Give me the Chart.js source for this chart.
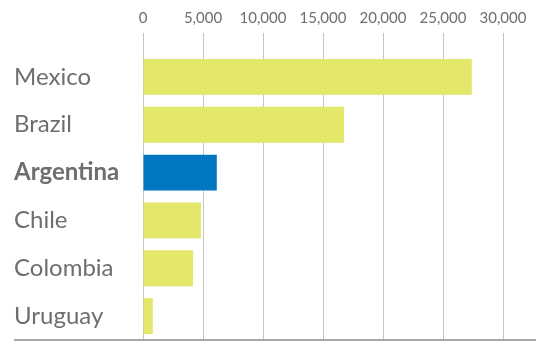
<!DOCTYPE html>
<html>
<head>
<meta charset="utf-8">
<script src="https://cdn.jsdelivr.net/npm/chart.js@4"></script>
<style>
  html, body { margin: 0; padding: 0; background: #ffffff; }
  #wrap { width: 547px; height: 341px; position: relative; }
  canvas { display: block; }
</style>
</head>
<body>
<div id="wrap"><canvas id="chart" width="547" height="341"></canvas></div>
<script>
// Countries, top to bottom
const countries = ['Mexico', 'Brazil', 'Argentina', 'Chile', 'Colombia', 'Uruguay'];
// Values per country
const values = [27400, 16750, 6150, 4830, 4170, 820];
// Country shown in the highlight colour
const highlight = 'Argentina';
// Axis tick values
const tickValues = [0, 5000, 10000, 15000, 20000, 25000, 30000];

const baseColor = '#e3e86a';
const highlightColor = '#0077c0';
const textColor = '#6e6e6e';
const fontFamily = "Lato, 'Open Sans', sans-serif";

// Dark baseline under the last row, spanning the label column too
const baseline = {
  id: 'baseline',
  afterDraw(chart) {
    const { ctx, chartArea } = chart;
    ctx.save();
    ctx.strokeStyle = '#8a8a8a';
    ctx.lineWidth = 1.5;
    ctx.beginPath();
    ctx.moveTo(14, chartArea.bottom);
    ctx.lineTo(536, chartArea.bottom);
    ctx.stroke();
    ctx.restore();
  }
};

new Chart(document.getElementById('chart'), {
  type: 'bar',
  data: {
    labels: countries,
    datasets: [{
      data: values,
      backgroundColor: countries.map(c => c === highlight ? highlightColor : baseColor),
      categoryPercentage: 0.75,
      barPercentage: 1.0,
      borderWidth: 0
    }]
  },
  options: {
    indexAxis: 'y',
    responsive: false,
    animation: false,
    devicePixelRatio: 1,
    layout: { padding: { left: 14, right: 44, top: 0, bottom: 1 } },
    plugins: { legend: { display: false }, tooltip: { enabled: false } },
    scales: {
      x: {
        position: 'top',
        min: 0,
        max: 30000,
        afterBuildTicks(axis) { axis.ticks = tickValues.map(v => ({ value: v })); },
        afterFit(axis) { axis.height = 53; },
        grid: {
          color: '#c4c4c4',
          lineWidth: 1,
          drawTicks: true,
          tickLength: 20,
          tickColor: '#c4c4c4'
        },
        border: { display: false },
        ticks: {
          padding: 6,
          color: textColor,
          font: { family: fontFamily, size: 15 },
          callback: v => v.toLocaleString('en-US')
        }
      },
      y: {
        afterFit(axis) {
          axis.width = 129;
          axis.paddingTop = 0;
          axis.paddingBottom = 0;
        },
        grid: { display: false },
        border: { display: false },
        ticks: {
          crossAlign: 'far',
          padding: 0,
          color: textColor,
          font: ctx => ({
            family: fontFamily,
            size: 24,
            weight: countries[ctx.index] === highlight ? 'bold' : 'normal'
          })
        }
      }
    }
  },
  plugins: [baseline]
});
</script>
</body>
</html>
